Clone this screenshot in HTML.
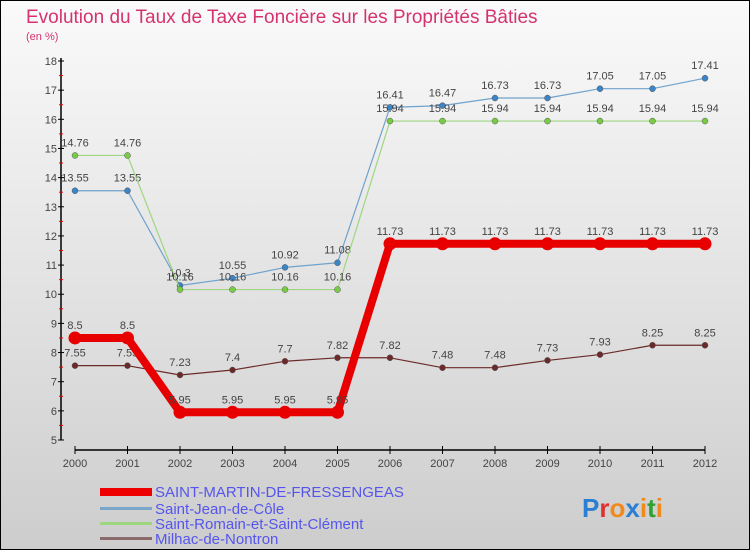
<!DOCTYPE html>
<html><head><meta charset="utf-8"><style>
body{margin:0}
#c{width:750px;height:550px;position:relative;overflow:hidden;font-family:"Liberation Sans",sans-serif}
</style></head><body>
<div id="c">
<svg id="s" width="750" height="550" xmlns="http://www.w3.org/2000/svg">
<defs><linearGradient id="bg" x1="0" y1="0" x2="0" y2="1"><stop offset="0" stop-color="#fafafa"/><stop offset="1" stop-color="#cdcdcd"/></linearGradient></defs>
<rect x="0.5" y="0.5" width="749" height="549" fill="url(#bg)" stroke="#000"/>
<text x="26" y="23" font-size="19" fill="#d5336f">Evolution du Taux de Taxe Foncière sur les Propriétés Bâties</text>
<text x="26" y="40" font-size="11" fill="#d5336f">(en %)</text>
<g id="axes"></g><g id="series"></g>
<g>
<rect x="100" y="488" width="52" height="8" fill="#e00"/>
<text x="155" y="497" font-size="15" fill="#5555ee">SAINT-MARTIN-DE-FRESSENGEAS</text>
<rect x="100" y="507" width="52" height="3" fill="#7aa6c9"/>
<text x="155" y="514" font-size="15" fill="#5555ee">Saint-Jean-de-Côle</text>
<rect x="100" y="522" width="52" height="3" fill="#9ed67f"/>
<text x="155" y="529" font-size="15" fill="#5555ee">Saint-Romain-et-Saint-Clément</text>
<rect x="100" y="537" width="52" height="3" fill="#8a6a6a"/>
<text x="155" y="544" font-size="15" fill="#5555ee">Milhac-de-Nontron</text>
</g>
<text x="582" y="517" font-size="26" font-weight="bold"><tspan fill="#2a7fd4">P</tspan><tspan fill="#e03030">r</tspan><tspan fill="#f08a1c">o</tspan><tspan fill="#2a7fd4">x</tspan><tspan fill="#f08a1c">i</tspan><tspan fill="#30a030">t</tspan><tspan fill="#f08a1c">i</tspan></text>
</svg>
</div>
<script>
const years=[2000,2001,2002,2003,2004,2005,2006,2007,2008,2009,2010,2011,2012];
const yTicks=[5,6,7,8,9,10,11,12,13,14,15,16,17,18];
const stMartin=[8.5,8.5,5.95,5.95,5.95,5.95,11.73,11.73,11.73,11.73,11.73,11.73,11.73];
const stJean=[13.55,13.55,10.3,10.55,10.92,11.08,16.41,16.47,16.73,16.73,17.05,17.05,17.41];
const stRomain=[14.76,14.76,10.16,10.16,10.16,10.16,15.94,15.94,15.94,15.94,15.94,15.94,15.94];
const milhac=[7.55,7.55,7.23,7.4,7.7,7.82,7.82,7.48,7.48,7.73,7.93,8.25,8.25];
const NS="http://www.w3.org/2000/svg";
const xs=i=>75+i*52.5;
const ys=v=>440-(v-5)*(379/13);
function mk(t,a,p){const e=document.createElementNS(NS,t);for(const k in a)e.setAttribute(k,a[k]);p.appendChild(e);return e;}
const ax=document.getElementById('axes'), sg=document.getElementById('series');
let e=mk('line',{x1:61,y1:58,x2:61,y2:440,stroke:'#000','stroke-width':1.5},ax);


yTicks.forEach(v=>{
 mk('line',{x1:58,x2:64,y1:ys(v),y2:ys(v),stroke:'#000'},ax);
 if(v<18) mk('line',{x1:59,x2:63,y1:ys(v+0.5),y2:ys(v+0.5),stroke:'#e00'},ax);
 const t=mk('text',{x:57,y:ys(v)+4,'font-size':11,'text-anchor':'end',fill:'#444'},ax);
 t.textContent=v;
 
 
});
e=mk('line',{x1:75,y1:450,x2:705,y2:450,stroke:'#000','stroke-width':1.5},ax);


years.forEach((y,i)=>{
 mk('line',{x1:xs(i),x2:xs(i),y1:446,y2:454,stroke:'#000'},ax);
 const t=mk('text',{x:xs(i),y:467,'font-size':11,'text-anchor':'middle',fill:'#444'},ax);
 t.textContent=y;
 
 
});
function series(d,name,col,w,r,fill){
 const g=mk('g',{},sg);
 
 
 mk('polyline',{points:d.map((v,i)=>xs(i)+','+ys(v)).join(' '),fill:'none',stroke:col,'stroke-width':w,'stroke-linejoin':'round'},g);
 d.forEach((v,i)=>{
  const c=mk('circle',{cx:xs(i),cy:ys(v),r:r,fill:fill,stroke:w>3?'none':'#555','stroke-width':0.5},g);
  
  
  const t=mk('text',{x:xs(i),y:ys(v)-9,'font-size':11,'text-anchor':'middle',fill:'#444'},g);
  t.textContent=String(v);
  
  
 });
}
series(milhac,'milhac-series','#6b2a2a',1.2,3,'#6b2a2a');
series(stJean,'saint-jean-series','#6fa2cc',1.2,3,'#3a85c8');
series(stRomain,'saint-romain-series','#9ed67f',1.2,3,'#77cc44');
series(stMartin,'saint-martin-series','#e80000',8,6.5,'#e80000');
</script>
</body></html>
